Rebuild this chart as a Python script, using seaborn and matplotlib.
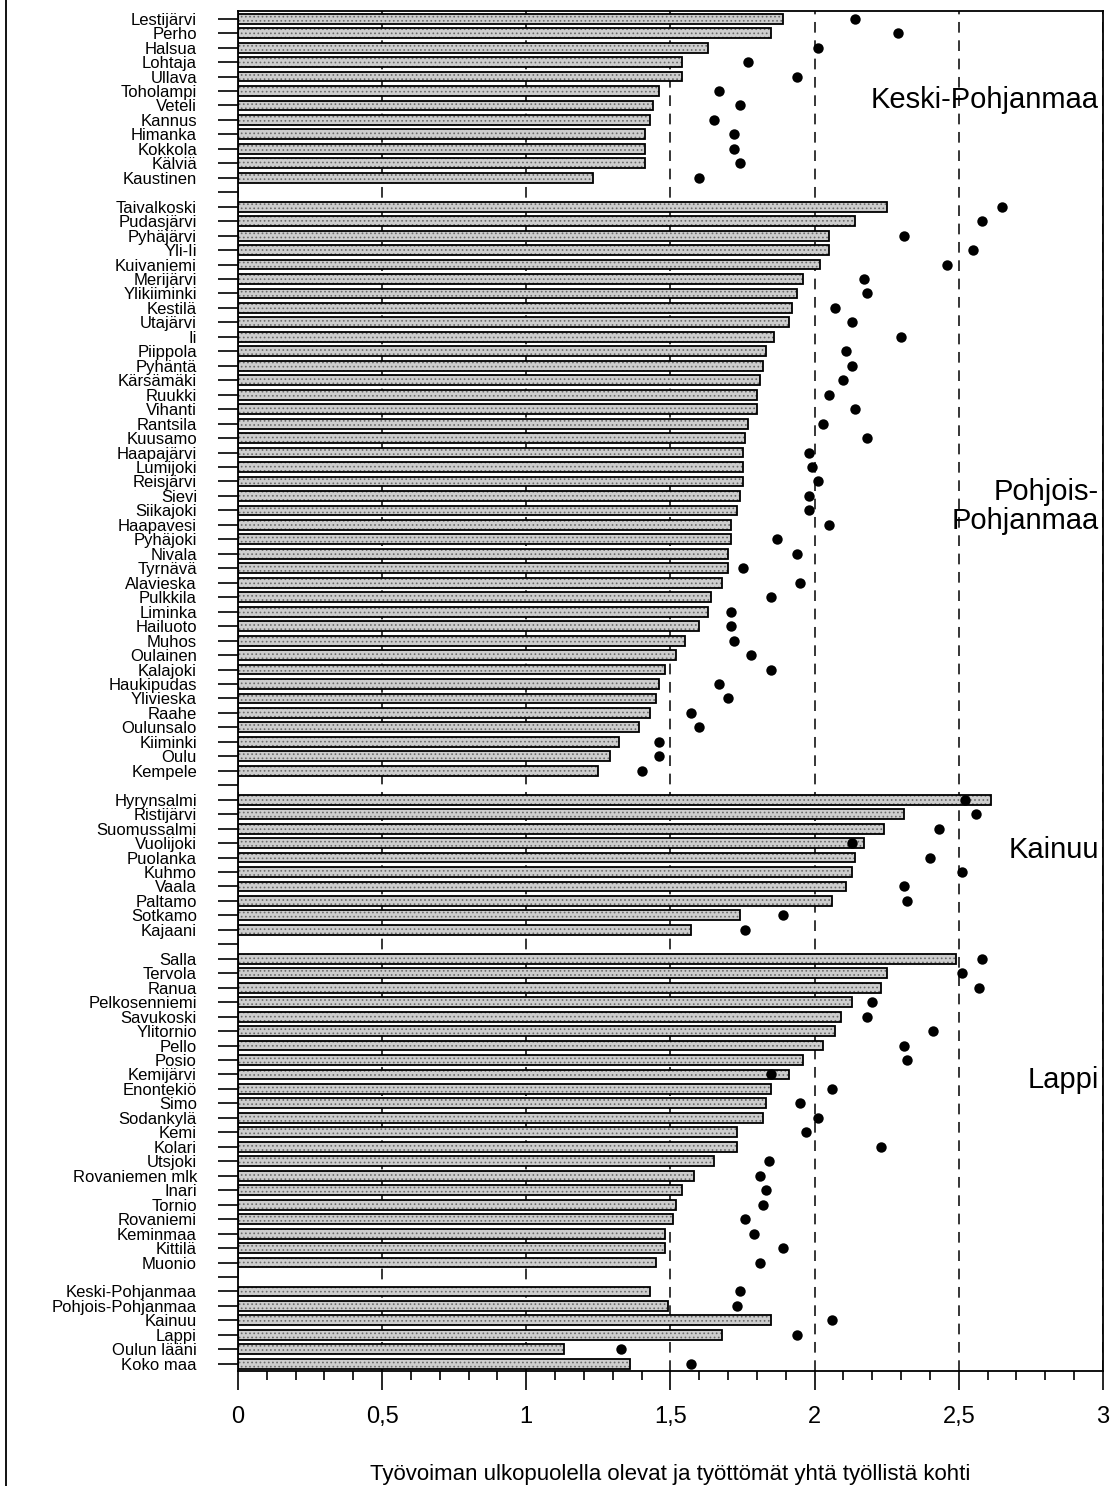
import pandas as pd
import seaborn as sns
import matplotlib.pyplot as plt
from matplotlib.lines import Line2D

# values: bar = 1990s ratio, dot = second measure
keski_names = ["Lestijärvi", "Perho", "Halsua", "Lohtaja", "Ullava", "Toholampi",
               "Veteli", "Kannus", "Himanka", "Kokkola", "Kälviä", "Kaustinen"]
keski_bar = [1.89, 1.85, 1.63, 1.54, 1.54, 1.46, 1.44, 1.43, 1.41, 1.41, 1.41, 1.23]
keski_dot = [2.14, 2.29, 2.01, 1.77, 1.94, 1.67, 1.74, 1.65, 1.72, 1.72, 1.74, 1.60]

pohjois_names = ["Taivalkoski", "Pudasjärvi", "Pyhäjärvi", "Yli-Ii", "Kuivaniemi",
                 "Merijärvi", "Ylikiiminki", "Kestilä", "Utajärvi", "Ii", "Piippola",
                 "Pyhäntä", "Kärsämäki", "Ruukki", "Vihanti", "Rantsila", "Kuusamo",
                 "Haapajärvi", "Lumijoki", "Reisjärvi", "Sievi", "Siikajoki",
                 "Haapavesi", "Pyhäjoki", "Nivala", "Tyrnävä", "Alavieska", "Pulkkila",
                 "Liminka", "Hailuoto", "Muhos", "Oulainen", "Kalajoki", "Haukipudas",
                 "Ylivieska", "Raahe", "Oulunsalo", "Kiiminki", "Oulu", "Kempele"]
pohjois_bar = [2.25, 2.14, 2.05, 2.05, 2.02, 1.96, 1.94, 1.92, 1.91, 1.86, 1.83,
               1.82, 1.81, 1.80, 1.80, 1.77, 1.76, 1.75, 1.75, 1.75, 1.74, 1.73,
               1.71, 1.71, 1.70, 1.70, 1.68, 1.64, 1.63, 1.60, 1.55, 1.52, 1.48,
               1.46, 1.45, 1.43, 1.39, 1.32, 1.29, 1.25]
pohjois_dot = [2.65, 2.58, 2.31, 2.55, 2.46, 2.17, 2.18, 2.07, 2.13, 2.30, 2.11,
               2.13, 2.10, 2.05, 2.14, 2.03, 2.18, 1.98, 1.99, 2.01, 1.98, 1.98,
               2.05, 1.87, 1.94, 1.75, 1.95, 1.85, 1.71, 1.71, 1.72, 1.78, 1.85,
               1.67, 1.70, 1.57, 1.60, 1.46, 1.46, 1.40]

kainuu_names = ["Hyrynsalmi", "Ristijärvi", "Suomussalmi", "Vuolijoki", "Puolanka",
                "Kuhmo", "Vaala", "Paltamo", "Sotkamo", "Kajaani"]
kainuu_bar = [2.61, 2.31, 2.24, 2.17, 2.14, 2.13, 2.11, 2.06, 1.74, 1.57]
kainuu_dot = [2.52, 2.56, 2.43, 2.13, 2.40, 2.51, 2.31, 2.32, 1.89, 1.76]

lappi_names = ["Salla", "Tervola", "Ranua", "Pelkosenniemi", "Savukoski", "Ylitornio",
               "Pello", "Posio", "Kemijärvi", "Enontekiö", "Simo", "Sodankylä", "Kemi",
               "Kolari", "Utsjoki", "Rovaniemen mlk", "Inari", "Tornio", "Rovaniemi",
               "Keminmaa", "Kittilä", "Muonio"]
lappi_bar = [2.49, 2.25, 2.23, 2.13, 2.09, 2.07, 2.03, 1.96, 1.91, 1.85, 1.83,
             1.82, 1.73, 1.73, 1.65, 1.58, 1.54, 1.52, 1.51, 1.48, 1.48, 1.45]
lappi_dot = [2.58, 2.51, 2.57, 2.20, 2.18, 2.41, 2.31, 2.32, 1.85, 2.06, 1.95,
             2.01, 1.97, 2.23, 1.84, 1.81, 1.83, 1.82, 1.76, 1.79, 1.89, 1.81]

summary_names = ["Keski-Pohjanmaa", "Pohjois-Pohjanmaa", "Kainuu", "Lappi",
                 "Oulun lääni", "Koko maa"]
summary_bar = [1.43, 1.49, 1.85, 1.68, 1.13, 1.36]
summary_dot = [1.74, 1.73, 2.06, 1.94, 1.33, 1.57]

region_labels = ["Keski-Pohjanmaa", "Pohjois-\nPohjanmaa", "Kainuu", "Lappi"]

groups = [(keski_names, keski_bar, keski_dot),
          (pohjois_names, pohjois_bar, pohjois_dot),
          (kainuu_names, kainuu_bar, kainuu_dot),
          (lappi_names, lappi_bar, lappi_dot),
          (summary_names, summary_bar, summary_dot)]

rows = []
order = []
starts = []
for i, (names, bars, dots) in enumerate(groups):
    if i > 0:
        order.append("_gap%d" % i)  # empty slot between groups
    starts.append(len(order))
    order += names
    for n, b, d in zip(names, bars, dots):
        rows.append({"kunta": n, "suhde": b, "piste": d})
df = pd.DataFrame(rows)

sns.set_style("white")
plt.rcParams["font.family"] = ["Liberation Sans", "DejaVu Sans"]
plt.rcParams["hatch.linewidth"] = 0.7
for k in ["text.color", "axes.labelcolor", "xtick.color", "ytick.color",
          "xtick.labelcolor", "ytick.labelcolor"]:
    plt.rcParams[k] = "black"

fig = plt.figure(figsize=(11.12, 14.86), dpi=100)
ax = fig.add_axes([0.214, 0.0774, 0.7779, 0.9149])

# stippled fill, then black outline on top
sns.barplot(data=df, x="suhde", y="kunta", order=order, orient="h", ax=ax,
            color="#cdcdcd", edgecolor="#6a6a6a", linewidth=0, hatch="....",
            width=0.68, saturation=1, errorbar=None, zorder=2)
sns.barplot(data=df, x="suhde", y="kunta", order=order, orient="h", ax=ax,
            fill=False, edgecolor="black", linewidth=1.3,
            width=0.68, errorbar=None, zorder=3)
sns.stripplot(data=df, x="piste", y="kunta", order=order, orient="h", ax=ax,
              jitter=False, color="black", size=7.5, linewidth=0, zorder=4)

ax.set_xlim(0, 3)
ax.set_ylim(len(order) - 0.5, -0.5)
ax.set_yticks(range(len(order)))
ax.set_yticklabels(["" if o.startswith("_gap") else o for o in order], fontsize=12)
ax.set_ylabel("")

ax.set_xticks([0, 0.5, 1, 1.5, 2, 2.5, 3])
ax.set_xticklabels(["0", "0,5", "1", "1,5", "2", "2,5", "3"], fontsize=17)
ax.set_xticks([k / 10 for k in range(31)], minor=True)
ax.tick_params(axis="x", which="major", direction="out", length=14, width=1.2,
               pad=11, color="black", bottom=True)
ax.tick_params(axis="x", which="minor", direction="out", length=6.5, width=1.2,
               color="black", bottom=True)
ax.tick_params(axis="y", direction="out", length=14.5, width=1.2, pad=15,
               color="black", left=True)
ax.set_xlabel("Työvoiman ulkopuolella olevat ja työttömät yhtä työllistä kohti",
              fontsize=16, labelpad=26)

ax.set_axisbelow(True)
ax.grid(axis="x", which="major", color="black", linewidth=1.1, linestyle=(0, (7, 5)))
ax.grid(axis="y", visible=False)
for s in ax.spines.values():
    s.set_visible(True)
    s.set_color("black")
    s.set_linewidth(1.3)

# region names inside the plot
label_rows = [5.6, starts[1] + 20.7, starts[2] + 3.5, starts[3] + 8.4]
for lab, yy in zip(region_labels, label_rows):
    ax.text(2.985, yy, lab, ha="right", va="center", multialignment="right",
            fontsize=21, linespacing=1.05, zorder=5)

fig.add_artist(Line2D([0.005, 0.005], [0, 1], transform=fig.transFigure,
                      color="black", linewidth=1.3))

plt.savefig("out.png", dpi=100)
plt.close()
